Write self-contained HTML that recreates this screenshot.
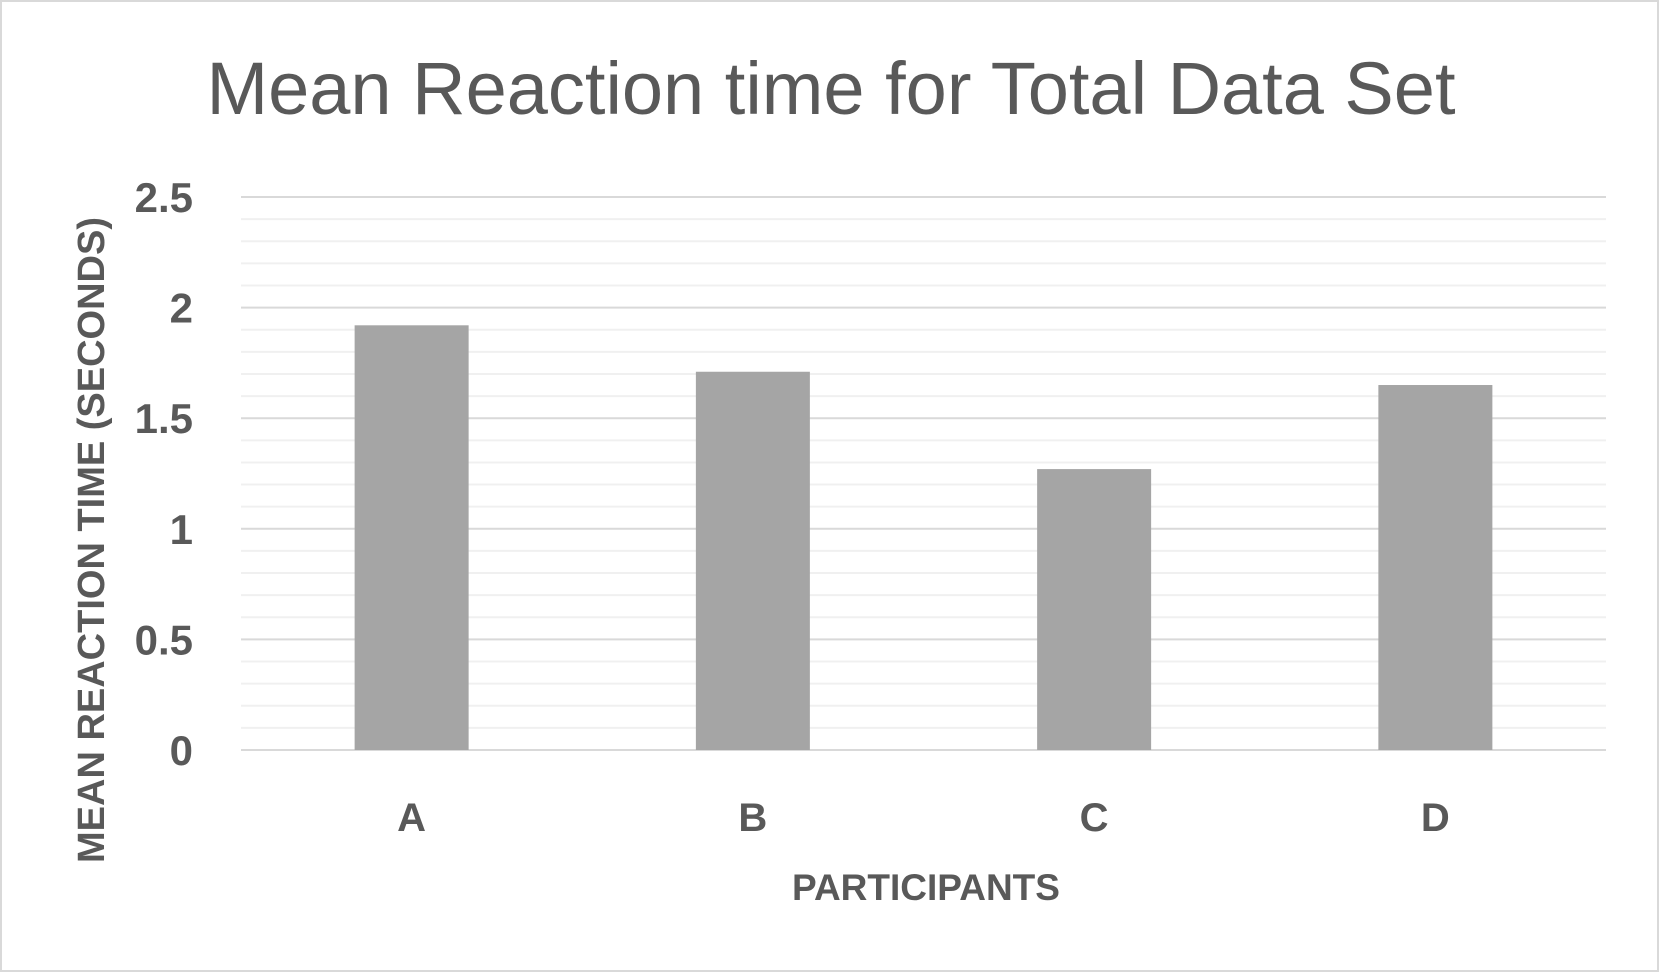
<!DOCTYPE html>
<html><head><meta charset="utf-8"><style>
html,body{margin:0;padding:0;background:#fff;}
svg{display:block;font-family:"Liberation Sans",sans-serif;}
</style></head><body>
<svg id="chart" width="1659" height="972">
<rect x="1" y="1" width="1657" height="970" fill="#fff" stroke="#d9d9d9" stroke-width="2"/>
<text x="831" y="114" text-anchor="middle" font-size="74" fill="#595959">Mean Reaction time for Total Data Set</text>
<g id="grid"></g>
<g id="bars"></g>
<g id="labels"></g>
<text x="926" y="900" text-anchor="middle" font-size="37" font-weight="bold" fill="#595959">PARTICIPANTS</text>
<text transform="translate(104,540) rotate(-90)" text-anchor="middle" font-size="38" font-weight="bold" fill="#595959">MEAN REACTION TIME (SECONDS)</text>
</svg>
<script>
const categories = ["A","B","C","D"];
const values = [1.92, 1.71, 1.27, 1.65];
const yTicks = ["0","0.5","1","1.5","2","2.5"];
const ns="http://www.w3.org/2000/svg";
const L=241,R=1606,Y0=750,Y1=197,YMAX=2.5;
const y=v=>Y0-(v/YMAX)*(Y0-Y1);
const band=(R-L)/categories.length;
const x=i=>L+band*(i+0.5);
const grid=document.getElementById('grid'),bars=document.getElementById('bars'),labels=document.getElementById('labels');
function mk(tag,attrs,parent){const e=document.createElementNS(ns,tag);for(const k in attrs)e.setAttribute(k,attrs[k]);parent.appendChild(e);return e;}
for(let k=1;k<=25;k++){if(k%5===0)continue;const yy=y(k*0.1);
 const g=mk('line',{x1:L,x2:R,y1:yy,y2:yy,stroke:'#f0f0f0','stroke-width':2},grid);
 
 }
yTicks.forEach(t=>{const v=parseFloat(t),yy=y(v);
 const g=mk('line',{x1:L,x2:R,y1:yy,y2:yy,stroke:'#d9d9d9','stroke-width':2},grid);
 
 
 const tx=mk('text',{x:193,y:yy+15,'text-anchor':'end','font-size':42,'font-weight':'bold',fill:'#595959'},labels);
 tx.textContent=t;
 
 });
const bw=114;
categories.forEach((c,i)=>{
 const b=mk('rect',{x:x(i)-bw/2,y:y(values[i]),width:bw,height:Y0-y(values[i]),fill:'#a5a5a5'},bars);
 
 
 const t=mk('text',{x:x(i),y:831,'text-anchor':'middle','font-size':40,'font-weight':'bold',fill:'#595959'},labels);
 t.textContent=c;
 
 });
</script>
</body></html>
